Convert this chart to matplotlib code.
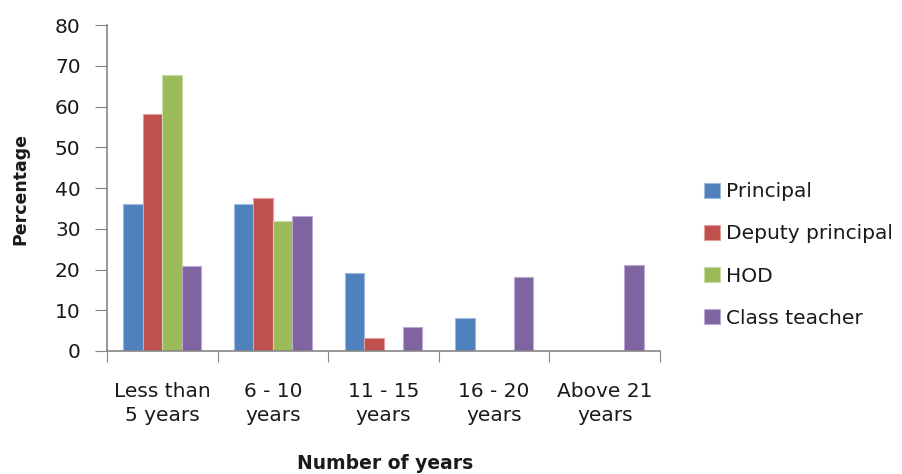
import matplotlib.pyplot as plt
import numpy as np

categories = ["Less than\n5 years", "6 - 10\nyears", "11 - 15\nyears", "16 - 20\nyears", "Above 21\nyears"]
principal = [36.0, 36.0, 19.1, 8.0, 0]
deputy = [58.3, 37.6, 3.3, 0, 0]
hod = [67.7, 31.8, 0, 0, 0]
class_teacher = [20.9, 33.2, 5.8, 18.1, 21.0]

series = [("Principal", principal, "#4F81BD", "#9DB9DE"),
          ("Deputy principal", deputy, "#C0504D", "#E0A09E"),
          ("HOD", hod, "#9BBB59", "#C8DBA5"),
          ("Class teacher", class_teacher, "#8064A2", "#BCA9D2")]

plt.rcParams['font.family'] = ['DejaVu Sans']
axis_col = "#868686"
text_col = "#1a1a1a"

fig = plt.figure(figsize=(9.03, 4.74), dpi=100)
ax = fig.add_axes([0.1185, 0.2595, 0.6125, 0.6875])

x = np.arange(len(categories))
w = 0.176
for i, (name, vals, col, edge) in enumerate(series):
    ax.bar(x + (i - 1.5) * w, vals, w, color=col, edgecolor=edge, linewidth=0.8, label=name)

ax.set_xlim(-0.5, len(categories) - 0.5)
ax.set_ylim(0, 80)
ax.set_yticks(range(0, 81, 10))
ax.tick_params(axis='y', direction='out', length=9, color=axis_col, labelsize=14.5,
               labelcolor=text_col, pad=10)

# group boundaries as major ticks, labels on minor ticks at the centres
ax.set_xticks(np.arange(-0.5, len(categories)))
ax.set_xticklabels([])
ax.set_xticks(x, minor=True)
ax.set_xticklabels(categories, minor=True, fontsize=14.5, linespacing=1.35, color=text_col)
ax.tick_params(axis='x', which='major', direction='out', length=8, color=axis_col)
ax.tick_params(axis='x', which='minor', length=0, pad=22)

for s in ['top', 'right']:
    ax.spines[s].set_visible(False)
for s in ['left', 'bottom']:
    ax.spines[s].set_color(axis_col)
    ax.spines[s].set_linewidth(1.2)

fig.text(0.023, 0.601, "Percentage", rotation=90, ha='center', va='center',
         fontsize=12.5, fontweight='bold', color=text_col)
fig.text(0.426, 0.023, "Number of years", ha='center', va='center',
         fontsize=13.5, fontweight='bold', color=text_col)

leg = ax.legend(loc='center left', bbox_to_anchor=(0.760, 0.462), bbox_transform=fig.transFigure,
                frameon=False, fontsize=14.5, handlelength=0.75, handleheight=0.75,
                handletextpad=0.3, labelspacing=1.15)
for t in leg.get_texts():
    t.set_color(text_col)

fig.savefig("out.png", dpi=100)
